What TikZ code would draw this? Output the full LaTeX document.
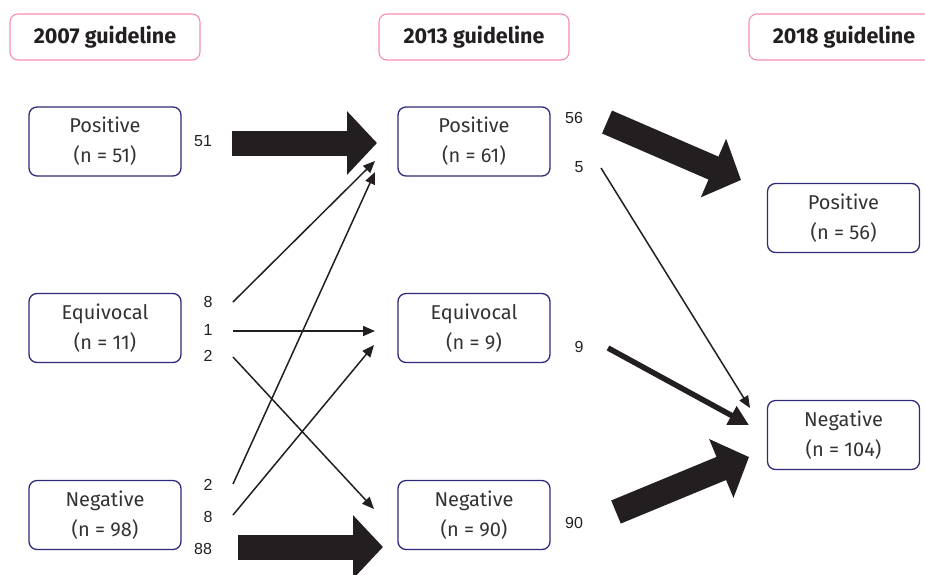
\documentclass[tikz,border=0pt]{standalone}
\usepackage{fontspec}
\setmainfont{Fira Sans}
\newfontfamily\numfont{Liberation Sans}
\usetikzlibrary{arrows.meta}
\definecolor{ink}{HTML}{231F20}
\definecolor{boxblue}{HTML}{2E2A7A}
\definecolor{pinkline}{HTML}{F28DB5}
\definecolor{txt}{HTML}{333333}
\tikzset{
  hdr/.style={draw=pinkline, line width=1.1pt, rounded corners=8pt, minimum width=190pt, minimum height=46pt, inner sep=0pt, text=ink, font=\fontsize{21.5}{24}\selectfont\bfseries},
  stbox/.style={draw=boxblue, line width=1.3pt, rounded corners=8pt, minimum width=152pt, minimum height=69pt, inner sep=0pt, align=center, text=txt, font=\fontsize{20}{30}\selectfont},
  num/.style={text=ink, font=\numfont\fontsize{16}{18}\selectfont, inner sep=0pt},
  thin/.style={draw=ink, line width=1.5pt, -{Triangle[length=12pt,width=10pt]}},
  mid/.style={draw=ink, line width=5.5pt, -{Triangle[length=20pt,width=20pt]}},
  fat/.style={draw=ink, line width=25pt, -{Triangle[length=30pt,width=62pt]}},
}
\begin{document}
\begin{tikzpicture}[x=1pt,y=-1pt]
\useasboundingbox (0,0) rectangle (925,574);
\clip (0,0) rectangle (925,574);
% headers
\node[hdr] (h07) at (105,37) {2007 guideline};
\node[hdr] (h13) at (474,37) {2013 guideline};
\node[hdr] (h18) at (844,37) {2018 guideline};
% state boxes
\node[stbox] (p07) at (105,141.5) {Positive\\(n = 51)};
\node[stbox] (e07) at (105,328) {Equivocal\\(n = 11)};
\node[stbox] (n07) at (105,515) {Negative\\(n = 98)};
\node[stbox] (p13) at (474,141.5) {Positive\\(n = 61)};
\node[stbox] (e13) at (474,328) {Equivocal\\(n = 9)};
\node[stbox] (n13) at (474,515) {Negative\\(n = 90)};
\node[stbox] (p18) at (843.5,218) {Positive\\(n = 56)};
\node[stbox] (n18) at (843.5,435) {Negative\\(n = 104)};
% counts
\node[num] (l51) at (203,141) {51};
\node[num] (l8a) at (208,302) {8};
\node[num] (l1) at (208,330) {1};
\node[num] (l2a) at (208,356) {2};
\node[num] (l2b) at (208,485) {2};
\node[num] (l8b) at (208,517) {8};
\node[num] (l88) at (203,549) {88};
\node[num] (l56) at (574,118) {56};
\node[num] (l5) at (579,167) {5};
\node[num] (l9) at (579,347) {9};
\node[num] (l90) at (574,523) {90};
% connector end points
\coordinate (s51) at (232,143);  \coordinate (t51) at (377,143);
\coordinate (s88) at (238,547);  \coordinate (t88) at (383,547);
\coordinate (s8a) at (233,302);  \coordinate (t8a) at (375,161);
\coordinate (s1)  at (233,331);  \coordinate (t1)  at (375,331);
\coordinate (s2a) at (233,357);  \coordinate (t2a) at (374,509);
\coordinate (s2b) at (233,484);  \coordinate (t2b) at (375,172);
\coordinate (s8b) at (233,515);  \coordinate (t8b) at (374,345);
\coordinate (s56) at (607,122);  \coordinate (t56) at (741,180);
\coordinate (s5)  at (601,168);  \coordinate (t5)  at (750,408);
\coordinate (s9)  at (608,348);  \coordinate (t9)  at (749,425);
\coordinate (s90) at (616,512);  \coordinate (t90) at (749,457);
% connectors
\draw[fat] (s51) -- (t51);
\draw[fat] (s88) -- (t88);
\draw[thin] (s8a) -- (t8a);
\draw[thin] (s1) -- (t1);
\draw[thin] (s2a) -- (t2a);
\draw[thin] (s2b) -- (t2b);
\draw[thin] (s8b) -- (t8b);
\draw[fat] (s56) -- (t56);
\draw[thin] (s5) -- (t5);
\draw[mid] (s9) -- (t9);
\draw[fat] (s90) -- (t90);
\end{tikzpicture}
\end{document}
